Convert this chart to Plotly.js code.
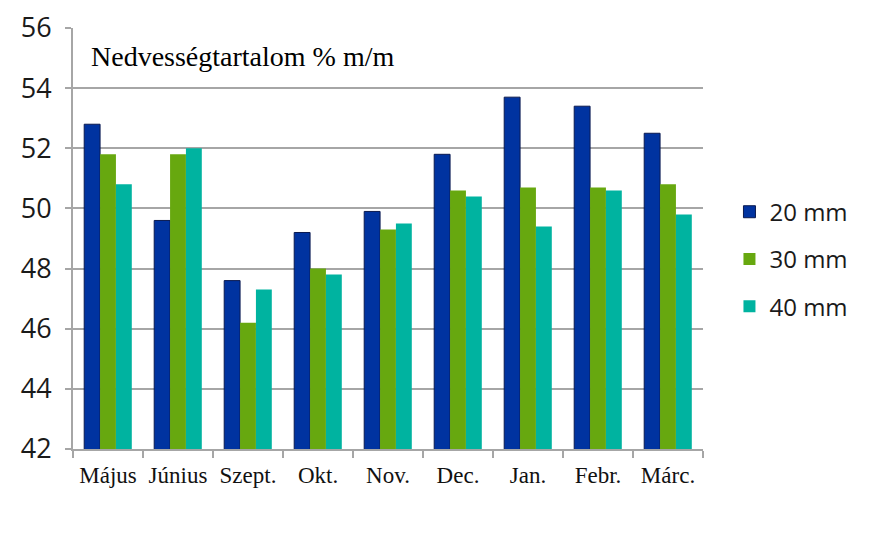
<!DOCTYPE html>
<html>
<head>
<meta charset="utf-8">
<script src="https://cdn.plot.ly/plotly-3.0.1.min.js"></script>
<style>html,body{margin:0;padding:0;background:#fff;}#chart{width:869px;height:536px;}</style>
</head>
<body>
<div id="chart"></div>
<script>
const categories = ["Május", "Június", "Szept.", "Okt.", "Nov.", "Dec.", "Jan.", "Febr.", "Márc."];
const mm20 = [52.8, 49.6, 47.6, 49.2, 49.9, 51.8, 53.7, 53.4, 52.5];
const mm30 = [51.8, 51.8, 46.2, 48.0, 49.3, 50.6, 50.7, 50.7, 50.8];
const mm40 = [50.8, 52.0, 47.3, 47.8, 49.5, 50.4, 49.4, 50.6, 49.8];
const seriesNames = ["20 mm", "30 mm", "40 mm"];
const yTicks = [42, 44, 46, 48, 50, 52, 54, 56];

const traces = [
  {type: "bar", name: seriesNames[0], x: categories, y: mm20, legendgroup: "a",
   marker: {color: "#0033a0", line: {color: "#0a1a50", width: 1}}},
  {type: "bar", name: seriesNames[1], x: categories, y: mm30, legendgroup: "b",
   marker: {color: "#67a80f", line: {width: 0}}},
  {type: "bar", name: seriesNames[2], x: categories, y: mm40, legendgroup: "c",
   marker: {color: "#00b3a0", line: {width: 0}}}
];

const layout = {
  width: 869, height: 536,
  margin: {l: 73, r: 166, t: 28, b: 87},
  paper_bgcolor: "#fff", plot_bgcolor: "#fff",
  barmode: "group", bargap: 0.32, bargroupgap: 0,
  showlegend: true,
  legend: {x: 1.042, xanchor: "left", xref: "paper", y: 0.451, yanchor: "middle",
    traceorder: "grouped", tracegroupgap: 13,
    font: {family: "Open Sans, DejaVu Sans, sans-serif", size: 24, color: "#1a1a1a"},
    itemwidth: 30, bgcolor: "rgba(0,0,0,0)"},
  xaxis: {
    type: "category", showline: true, linecolor: "#a6a6a6", linewidth: 2,
    ticks: "outside", tickson: "boundaries", ticklen: 7, tickcolor: "#a6a6a6", tickwidth: 2,
    showgrid: false, tickangle: 0,
    tickfont: {family: "Liberation Serif, Times New Roman, serif", size: 23, color: "#111"},
    ticklabelstandoff: 4
  },
  yaxis: {
    range: [42, 56], tickvals: yTicks, ticktext: yTicks.map(String),
    showline: true, linecolor: "#a6a6a6", linewidth: 2,
    ticks: "outside", ticklen: 6, tickcolor: "#a6a6a6", tickwidth: 2,
    showgrid: true, gridcolor: "#a6a6a6", gridwidth: 2, zeroline: false,
    tickfont: {family: "Open Sans, DejaVu Sans, sans-serif", size: 27, color: "#1a1a1a"},
    ticklabelstandoff: 8
  },
  annotations: [{
    xref: "paper", yref: "paper", x: 0.025, y: 0.933, xanchor: "left", yanchor: "middle",
    text: "Nedvességtartalom % m/m", showarrow: false,
    font: {family: "Liberation Serif, Times New Roman, serif", size: 28, color: "#000"}
  }]
};

Plotly.newPlot("chart", traces, layout, {staticPlot: true, displayModeBar: false});
</script>
</body>
</html>
